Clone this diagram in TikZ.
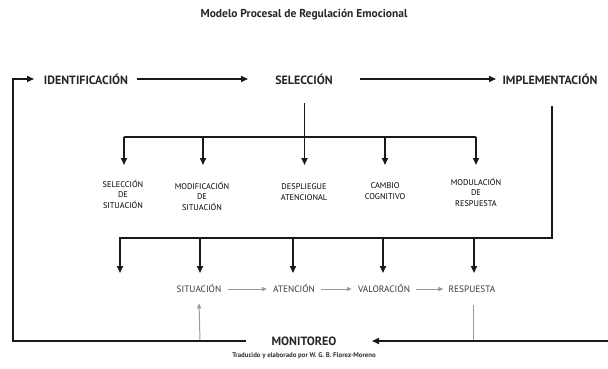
\documentclass[tikz,border=0pt]{standalone}
\usepackage{fontspec}
\setmainfont{PT Sans}
\usetikzlibrary{arrows.meta}
\begin{document}
\begin{tikzpicture}[x=1pt,y=-1pt,
  titlest/.style={font=\bfseries\fontsize{11.5}{13}\selectfont, text=black!85, inner sep=0pt},
  main/.style={font=\bfseries\fontsize{12}{14}\selectfont, text=black!85, inner sep=0pt},
  sub/.style={font=\fontsize{8.3}{10.5}\selectfont, align=center, text=black, inner sep=0pt},
  proc/.style={font=\fontsize{9.3}{11}\selectfont, text=black!78, inner sep=0pt},
  credit/.style={font=\bfseries\fontsize{6.8}{8}\selectfont, text=black!80, inner sep=0pt},
  blk/.style={line width=1.6pt, draw=black!90},
  arr/.style={blk, -{Triangle[length=7pt,width=6pt]}},
  garr/.style={line width=1pt, draw=black!40, -{Triangle[length=5pt,width=4pt]}},
  gline/.style={line width=1pt, draw=black!40}]
\useasboundingbox (0,0) rectangle (608,369);

% texts
\node[titlest] (title) at (304,15) {Modelo Procesal de Regulación Emocional};
\node[main] (iden) at (86,79) {IDENTIFICACIÓN};
\node[main] (sel) at (304,79) {SELECCIÓN};
\node[main] (impl) at (550,79) {IMPLEMENTACIÓN};
\node[main] (mon) at (304,341) {MONITOREO};

\node[sub] (s1) at (123,194) {SELECCIÓN\\DE\\SITUACIÓN};
\node[sub] (s2) at (202,196) {MODIFICACIÓN\\DE\\SITUACIÓN};
\node[sub] (s3) at (304,192) {DESPLIEGUE\\ATENCIONAL};
\node[sub] (s4) at (385,191) {CAMBIO\\COGNITIVO};
\node[sub] (s5) at (476,192) {MODULACIÓN\\DE\\RESPUESTA};

\node[proc] (p1) at (199,289) {SITUACIÓN};
\node[proc] (p2) at (294,289) {ATENCIÓN};
\node[proc] (p3) at (384,289) {VALORACIÓN};
\node[proc] (p4) at (472,289) {RESPUESTA};

\node[credit] (cred) at (304,356) {Traducido y elaborado por W. G. B. Florez-Moreno};

% top row arrows
\coordinate (a1s) at (137,79);
\coordinate (a1e) at (248,79);
\coordinate (a2s) at (360,79);
\coordinate (a2e) at (496,79);
\draw[arr] (a1s) -- (a1e);
\draw[arr] (a2s) -- (a2e);

% left feedback loop
\coordinate (mL) at (246,341);
\coordinate (cBL) at (13,341);
\coordinate (cTL) at (13,79);
\coordinate (iL) at (34,79);
\draw[arr] (mL) -- (cBL) -- (cTL) -- (iL);

% right feedback
\coordinate (mR) at (608,341);
\coordinate (mRt) at (372,341);
\draw[arr] (mR) -- (mRt);

% selection tree
\coordinate (selB) at (304.5,103);
\coordinate (selJ) at (304.5,137);
\coordinate (t1) at (124,137);
\coordinate (t5) at (476,137);
\draw[blk] (selB) -- (selJ);
\draw[blk] (t1) -- (t5);
\foreach \x in {124,203,304.5,385,476}{
  \draw[arr] (\x,137) -- (\x,165);
}

% implementation tree
\coordinate (impB) at (552,106);
\coordinate (impC) at (552,238);
\coordinate (impL) at (120,238);
\draw[arr] (impB) -- (impC) -- (impL) -- (120,273);
\foreach \x in {200,293,383,474}{
  \draw[arr] (\x,238) -- (\x,273);
}

% process chain (grey)
\draw[garr] ([xshift=6pt]p1.east) -- ([xshift=-6pt]p2.west);
\draw[garr] ([xshift=6pt]p2.east) -- ([xshift=-6pt]p3.west);
\draw[garr] ([xshift=6pt]p3.east) -- ([xshift=-5pt]p4.west);
\coordinate (gS) at (200,340);
\coordinate (gR) at (473,340);
\draw[garr] (gS) -- ([yshift=-10pt]p1.south);
\draw[gline] ([yshift=-12pt]p4.south -| gR) -- (gR);
\end{tikzpicture}
\end{document}
